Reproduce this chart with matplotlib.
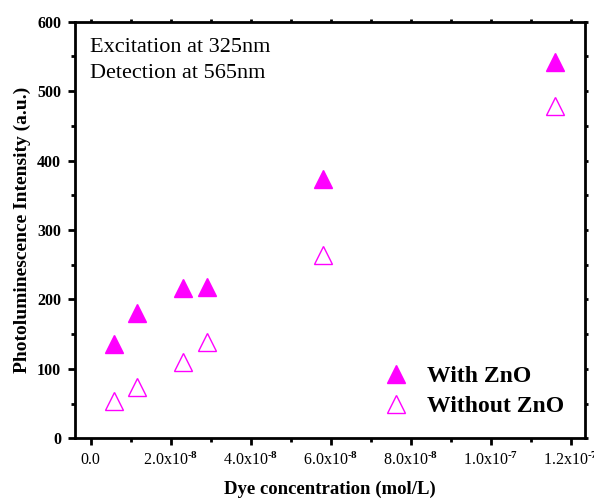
import matplotlib.pyplot as plt
from matplotlib.ticker import MultipleLocator, FuncFormatter

plt.rcParams["font.family"] = "Liberation Serif"
plt.rcParams["mathtext.fontset"] = "custom"
plt.rcParams["mathtext.rm"] = "Liberation Serif:bold"
plt.rcParams["mathtext.bf"] = "Liberation Serif:bold"
plt.rcParams["mathtext.default"] = "bf"

MAGENTA = "#FF00FF"

# dye concentration (mol/L)
conc = [0.58e-8, 1.16e-8, 2.32e-8, 2.90e-8, 5.80e-8, 11.6e-8]
# PL intensity (a.u.)
with_zno = [136, 180, 217, 218, 374, 542]
without_zno = [54, 74, 110, 139, 264, 479]

HY = "\u2010"  # short hyphen for the exponents
x_tick_labels = {
    0: "0.0",
    2: "2.0x10$^{" + HY + "8}$",
    4: "4.0x10$^{" + HY + "8}$",
    6: "6.0x10$^{" + HY + "8}$",
    8: "8.0x10$^{" + HY + "8}$",
    10: "1.0x10$^{" + HY + "7}$",
    12: "1.2x10$^{" + HY + "7}$",
}


def fmt_x(v, pos):
    k = int(round(v / 1e-8))
    return x_tick_labels.get(k, "")


fig = plt.figure(figsize=(5.94, 5.0), dpi=100)
ax = fig.add_axes([0.1263, 0.1234, 0.8585, 0.8332])

ax.plot(conc, with_zno, linestyle="none", marker="^", ms=13,
        color=MAGENTA, mec=MAGENTA, mew=1, label="With ZnO")
ax.plot(conc, without_zno, linestyle="none", marker="^", ms=13,
        mfc="none", mec=MAGENTA, mew=1, label="Without ZnO")

ax.set_xlim(-0.3875e-8, 12.36e-8)
ax.set_ylim(0, 600)

ax.xaxis.set_major_locator(MultipleLocator(2e-8))
ax.xaxis.set_minor_locator(MultipleLocator(1e-8))
ax.yaxis.set_major_locator(MultipleLocator(100))
ax.yaxis.set_minor_locator(MultipleLocator(50))
ax.xaxis.set_major_formatter(FuncFormatter(fmt_x))

for sp in ax.spines.values():
    sp.set_linewidth(2)

ax.tick_params(which="major", direction="out", length=5, width=2,
               labelsize=11.5, pad=5)
ax.tick_params(which="minor", direction="out", length=3, width=2)
ax.tick_params(which="both", top=True, right=True)
# tiny ticks on the top and right spines
for t in ax.xaxis.get_ticklines(minor=False)[1::2] + ax.yaxis.get_ticklines(minor=False)[1::2]:
    t.set_markersize(2)
for t in ax.xaxis.get_ticklines(minor=True)[1::2] + ax.yaxis.get_ticklines(minor=True)[1::2]:
    t.set_markersize(2)
for lbl in ax.get_yticklabels():
    lbl.set_fontweight("bold")

ax.set_xlabel("Dye concentration (mol/L)", fontsize=13.5, fontweight="bold",
              labelpad=8)
ax.set_ylabel("Photoluminescence Intensity (a.u.)", fontsize=14,
              fontweight="bold", labelpad=4)

ax.text(0.03, 0.928, "Excitation at 325nm", transform=ax.transAxes,
        ha="left", va="baseline", fontsize=16)
ax.text(0.03, 0.864, "Detection at 565nm", transform=ax.transAxes,
        ha="left", va="baseline", fontsize=16)

ax.legend(loc="lower right", bbox_to_anchor=(1.0, 0.0), frameon=False,
          prop={"family": "Liberation Serif", "weight": "bold", "size": 17},
          handletextpad=0.3, labelspacing=0.35, numpoints=1)

fig.savefig("out.png", dpi=100)
